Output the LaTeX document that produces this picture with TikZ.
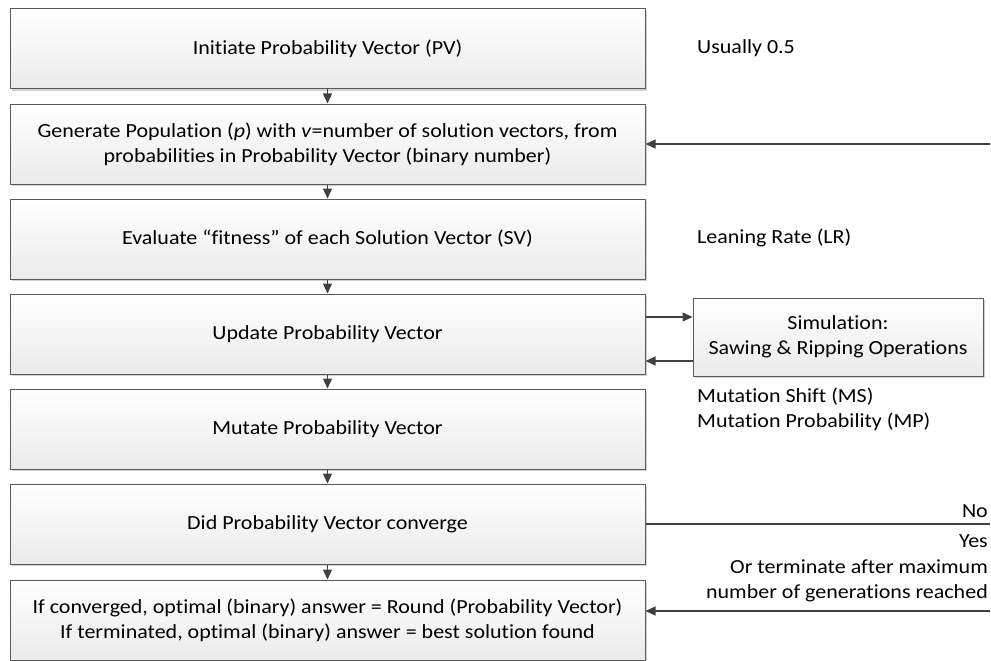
\documentclass[tikz,border=0pt]{standalone}
\usepackage{fontspec}
\setmainfont{Carlito}[FakeStretch=1.1, RawFeature={-liga}]
\usetikzlibrary{arrows.meta,shadows}
\definecolor{edge}{HTML}{5A5A5A}
\definecolor{ink}{HTML}{404040}
\begin{document}
\begin{tikzpicture}[x=1pt,y=-1pt,
  every node/.style={font=\fontsize{20}{25}\selectfont, text=black, inner sep=0pt},
  box/.style={draw=edge, line width=1pt, top color=white, bottom color=black!8,
    drop shadow={shadow xshift=2pt, shadow yshift=-2pt, fill=black!18, opacity=1},
    minimum width=635pt, minimum height=80pt, align=center},
  simbox/.style={box, minimum width=290pt, minimum height=78pt},
  note/.style={align=left},
  arr/.style={draw=ink, line width=1.3pt, -{Triangle[length=10pt,width=9pt]}},
  ln/.style={draw=ink, line width=1.3pt}]
\useasboundingbox (0,0) rectangle (991,661);

\node[box] (b1) at (327.5,49) {Initiate Probability Vector (PV)};
\node[box] (b2) at (327.5,144) {Generate Population (\textit{p}) with \textit{v}=number of solution vectors, from\\probabilities in Probability Vector (binary number)};
\node[box] (b3) at (327.5,239) {Evaluate “fitness” of each Solution Vector (SV)};
\node[box] (b4) at (327.5,334) {Update Probability Vector};
\node[box] (b5) at (327.5,429) {Mutate Probability Vector};
\node[box] (b6) at (327.5,524) {Did Probability Vector converge};
\node[box] (b7) at (327.5,620) {If converged, optimal (binary) answer = Round (Probability Vector)\\If terminated, optimal (binary) answer = best solution found};

\node[simbox] (sim) at (838,337) {Simulation:\\Sawing \& Ripping Operations};

\node[note, anchor=west] (t1) at (697,48) {Usually 0.5};
\node[note, anchor=west] (t3) at (697,238) {Leaning Rate (LR)};
\node[note, anchor=west] (t5) at (697,409) {Mutation Shift (MS)\\Mutation Probability (MP)};
\node[anchor=east] (no) at (988,511) {No};
\node[anchor=east] (yes) at (988,541) {Yes};
\node[align=right, anchor=east] (ort) at (988,581) {Or terminate after maximum\\number of generations reached};

\foreach \a/\b in {b1/b2,b2/b3,b3/b4,b4/b5,b5/b6,b6/b7}
  \draw[arr] (\a.south) -- (\b.north);

\coordinate (in2) at (990,144);
\draw[arr] (in2) -- (in2 -| b2.east);

\coordinate (r1) at (0,317);
\coordinate (r2) at (0,361);
\draw[arr] (r1 -| b4.east) -- (r1 -| sim.west);
\draw[arr] (r2 -| sim.west) -- (r2 -| b4.east);

\coordinate (noend) at (990,524);
\draw[ln] (b6.east) -- (noend);

\coordinate (in7) at (990,611);
\draw[arr] (in7) -- (in7 -| b7.east);
\end{tikzpicture}
\end{document}
